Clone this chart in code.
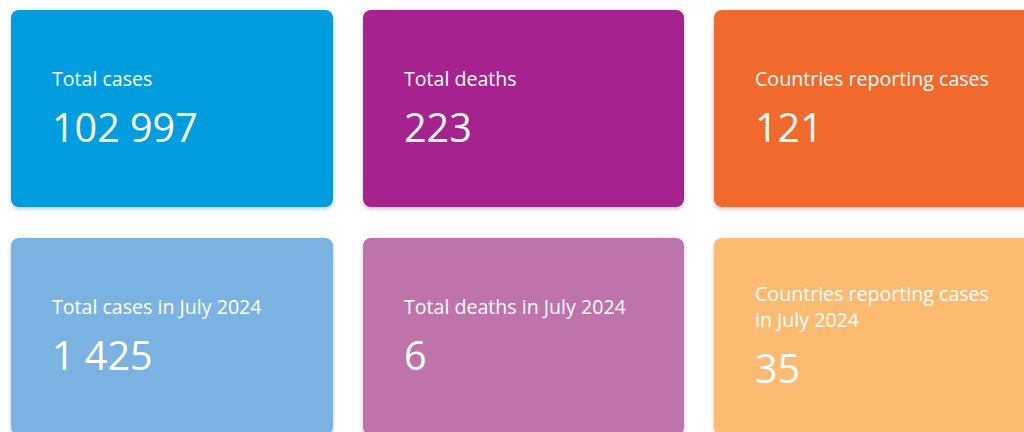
<!DOCTYPE html>
<html>
<head>
<meta charset="utf-8">
<script src="https://cdn.jsdelivr.net/npm/chart.js@4"></script>
<style>
  html, body { margin: 0; padding: 0; background: #fff; overflow: hidden; }
  body { width: 1024px; height: 432px; font-family: "Open Sans", "Noto Sans", sans-serif; }
  #grid { position: absolute; left: 11px; top: 10px; display: grid;
    grid-template-columns: 322px 321px 322px; grid-auto-rows: 197px;
    column-gap: 30px; row-gap: 31px; }
  .card { border-radius: 8px; box-shadow: 0 2px 4px rgba(0,0,0,0.22);
    display: flex; flex-direction: column; justify-content: center;
    padding: 0 10px 0 41px; color: #fff; box-sizing: border-box; }
  .label { font-size: 19.6px; line-height: 26px; }
  .value { font-size: 39.5px; line-height: 50px; margin-top: 10px; }
</style>
</head>
<body>
<div id="grid"></div>
<script>
const labels = ['Total cases', 'Total deaths', 'Countries reporting cases',
  'Total cases in July 2024', 'Total deaths in July 2024', 'Countries reporting cases<br>in July 2024']
const values = ['102 997', '223', '121', '1 425', '6', '35']
const colours = ['#009ddf', '#a6228e', '#f26a2b', '#7ab3e1', '#be73ab', '#fcbb71']

const grid = document.getElementById('grid')

function criaCard(legenda, valor, cor){
    let card = document.createElement('div')
    card.className = 'card'
    card.style.background = cor
    card.innerHTML = '<div class="label">' + legenda + '</div><div class="value">' + valor + '</div>'
    grid.appendChild(card)
}

labels.forEach((legenda, i) => {
    criaCard(legenda, values[i], colours[i])
})
</script>
</body>
</html>
